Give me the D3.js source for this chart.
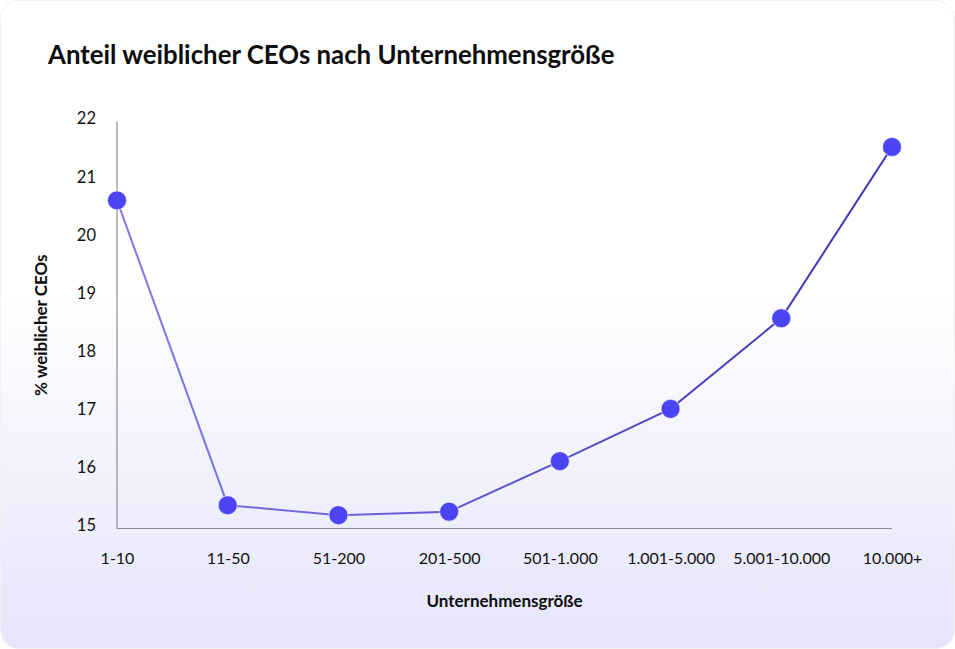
<!DOCTYPE html>
<html>
<head>
<meta charset="utf-8">
<script src="https://cdn.jsdelivr.net/npm/d3@7"></script>
<style>
  html, body { margin: 0; padding: 0; background: #ffffff; }
  svg { display: block; font-family: Lato, "Noto Sans", sans-serif; }
</style>
</head>
<body>
<div id="chart"></div>
<script>
const width = 955;
const height = 649;
const marginTop = 122;
const marginRight = 63;
const marginBottom = 120.5;
const marginLeft = 117;

// Data
const sizes = ["1-10", "11-50", "51-200", "201-500", "501-1.000", "1.001-5.000", "5.001-10.000", "10.000+"];
const shares = [20.65, 15.4, 15.23, 15.29, 16.16, 17.06, 18.62, 21.57];
const yTicks = [15, 16, 17, 18, 19, 20, 21, 22];

const data = sizes.map((s, i) => ({size: s, value: shares[i]}));

const svg = d3.select("#chart").append("svg")
    .attr("width", width)
    .attr("height", height)
    .attr("viewBox", [0, 0, width, height]);

const defs = svg.append("defs");

// Card background: white at the top fading to lavender
const bg = defs.append("linearGradient")
    .attr("id", "bg")
    .attr("x1", 0).attr("y1", 0).attr("x2", 0).attr("y2", 1);
bg.append("stop").attr("offset", "0%").attr("stop-color", "#ffffff");
bg.append("stop").attr("offset", "45%").attr("stop-color", "#ffffff");
bg.append("stop").attr("offset", "100%").attr("stop-color", "#e5e4fb");

// Line gets darker from left to right
const lineGrad = defs.append("linearGradient")
    .attr("id", "lineGrad")
    .attr("gradientUnits", "userSpaceOnUse")
    .attr("x1", marginLeft).attr("y1", 0)
    .attr("x2", width - marginRight).attr("y2", 0);
lineGrad.append("stop").attr("offset", "0%").attr("stop-color", "#8279ea");
lineGrad.append("stop").attr("offset", "100%").attr("stop-color", "#3a31b3");

svg.append("rect")
    .attr("x", 0.5).attr("y", 0.5)
    .attr("width", width - 1).attr("height", height - 1)
    .attr("rx", 19)
    .attr("fill", "url(#bg)")
    .attr("stroke", "#f1f1f4")
    .attr("stroke-width", 1);

// Scales
const x = d3.scalePoint()
    .domain(sizes)
    .range([marginLeft, width - marginRight])
    .padding(0);

const y = d3.scaleLinear()
    .domain([15, 22])
    .range([height - marginBottom, marginTop]);

// Title
svg.append("text")
    .attr("x", 48)
    .attr("y", 64)
    .attr("font-size", 25.8)
    .attr("font-weight", 700)
    .attr("fill", "#0d0d0d")
    .text("Anteil weiblicher CEOs nach Unternehmensgröße");

// Axes
svg.append("g")
    .attr("transform", `translate(0,${height - marginBottom})`)
    .call(d3.axisBottom(x).tickSize(0).tickPadding(24))
    .call(g => g.select(".domain").attr("stroke", "#8d8a99").attr("stroke-width", 1.2)
        .attr("d", `M${marginLeft},0H${width - marginRight}`))
    .call(g => g.selectAll("text")
        .attr("font-size", 16)
        .attr("font-family", "Lato, sans-serif")
        .attr("fill", "#111"));

svg.append("g")
    .attr("transform", `translate(${marginLeft},0)`)
    .call(d3.axisLeft(y).tickValues(yTicks).tickFormat(d3.format("d")).tickSize(0).tickPadding(21))
    .call(g => g.select(".domain").attr("stroke", "#8d8a99").attr("stroke-width", 1.2)
        .attr("d", `M0,${marginTop}V${height - marginBottom}`))
    .call(g => g.selectAll("text")
        .attr("font-size", 16.5)
        .attr("dy", "0.12em")
        .attr("font-family", "Lato, sans-serif")
        .attr("fill", "#111"));

// Axis titles
svg.append("text")
    .attr("x", (marginLeft + width - marginRight) / 2)
    .attr("y", 607)
    .attr("text-anchor", "middle")
    .attr("font-size", 17)
    .attr("font-weight", 700)
    .attr("fill", "#0d0d0d")
    .text("Unternehmensgröße");

svg.append("text")
    .attr("transform", `translate(47,${(marginTop + height - marginBottom) / 2}) rotate(-90)`)
    .attr("text-anchor", "middle")
    .attr("font-size", 17)
    .attr("font-weight", 700)
    .attr("fill", "#0d0d0d")
    .text("% weiblicher CEOs");

// Line
const line = d3.line()
    .x(d => x(d.size))
    .y(d => y(d.value));

svg.append("path")
    .datum(data)
    .attr("fill", "none")
    .attr("stroke", "url(#lineGrad)")
    .attr("stroke-width", 2)
    .attr("d", line);

// Dots
svg.append("g")
    .selectAll("circle")
    .data(data)
    .join("circle")
    .attr("cx", d => x(d.size))
    .attr("cy", d => y(d.value))
    .attr("r", 9.5)
    .attr("fill", "#4a44f2")
    .attr("stroke", "#ffffff")
    .attr("stroke-opacity", 0.6)
    .attr("stroke-width", 1);
</script>
</body>
</html>
